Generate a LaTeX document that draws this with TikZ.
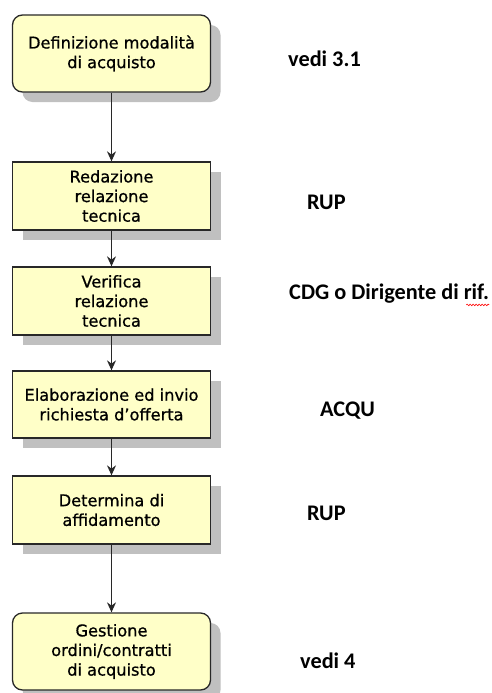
\documentclass[tikz,border=0pt]{standalone}
\usepackage{fontspec}
\newfontfamily\boxfont{DejaVu Sans}[FakeBold=0.8]
\newfontfamily\lblfont{Carlito}
\usetikzlibrary{shadows,arrows.meta,decorations.pathmorphing}
\definecolor{boxfill}{RGB}{255,255,200}
\definecolor{boxline}{RGB}{40,40,40}
\definecolor{shadowgray}{RGB}{192,192,192}
\tikzset{
  stepbox/.style={draw=boxline, line width=1.3pt, fill=boxfill,
    minimum width=198pt, inner sep=0pt, align=center,
    font=\boxfont\fontsize{16.2}{19.6}\selectfont,
    drop shadow={shadow xshift=10pt, shadow yshift=-10pt, fill=shadowgray, opacity=1}},
  termbox/.style={stepbox, rounded corners=10pt},
  flow/.style={draw=boxline, line width=1.1pt, -{Stealth[length=10pt,width=9pt]}},
  lbl/.style={anchor=west, inner sep=0pt, font=\lblfont\bfseries\fontsize{22.3}{25}\selectfont}
}
\begin{document}
\begin{tikzpicture}[x=1pt,y=-1pt]
\useasboundingbox[fill=white] (0,0) rectangle (491,693);
\node[termbox, minimum height=77pt] (b1) at (111.5,53.5) {Definizione modalità\\di acquisto};
\node[stepbox, minimum height=68pt] (b2) at (111.5,196) {Redazione\\relazione\\tecnica};
\node[stepbox, minimum height=68pt] (b3) at (111.5,301) {Verifica\\relazione\\tecnica};
\node[stepbox, minimum height=67pt] (b4) at (111.5,404.5) {Elaborazione ed invio\\richiesta d’offerta};
\node[stepbox, minimum height=68pt] (b5) at (111.5,510) {Determina di\\affidamento};
\node[termbox, minimum height=77pt] (b6) at (111.5,651.5) {Gestione\\ordini/contratti\\di acquisto};
\draw[flow] (b1) -- (b2);
\draw[flow] (b2) -- (b3);
\draw[flow] (b3) -- (b4);
\draw[flow] (b4) -- (b5);
\draw[flow] (b5) -- (b6);
\node[lbl] (l1) at (288,59) {vedi 3.1};
\node[lbl] (l2) at (307,202) {RUP};
\node[lbl] (l3) at (289,294) {CDG o Dirigente di rif.};
\node[lbl] (l4) at (320,411) {ACQU};
\node[lbl] (l5) at (307,513) {RUP};
\node[lbl] (l6) at (300,661) {vedi 4};
\draw[red, line width=0.6pt, decorate, decoration={snake, amplitude=0.8pt, segment length=3pt}]
  ([xshift=-23pt,yshift=-1pt]l3.south east) -- ([yshift=-1pt]l3.south east);
\end{tikzpicture}
\end{document}
